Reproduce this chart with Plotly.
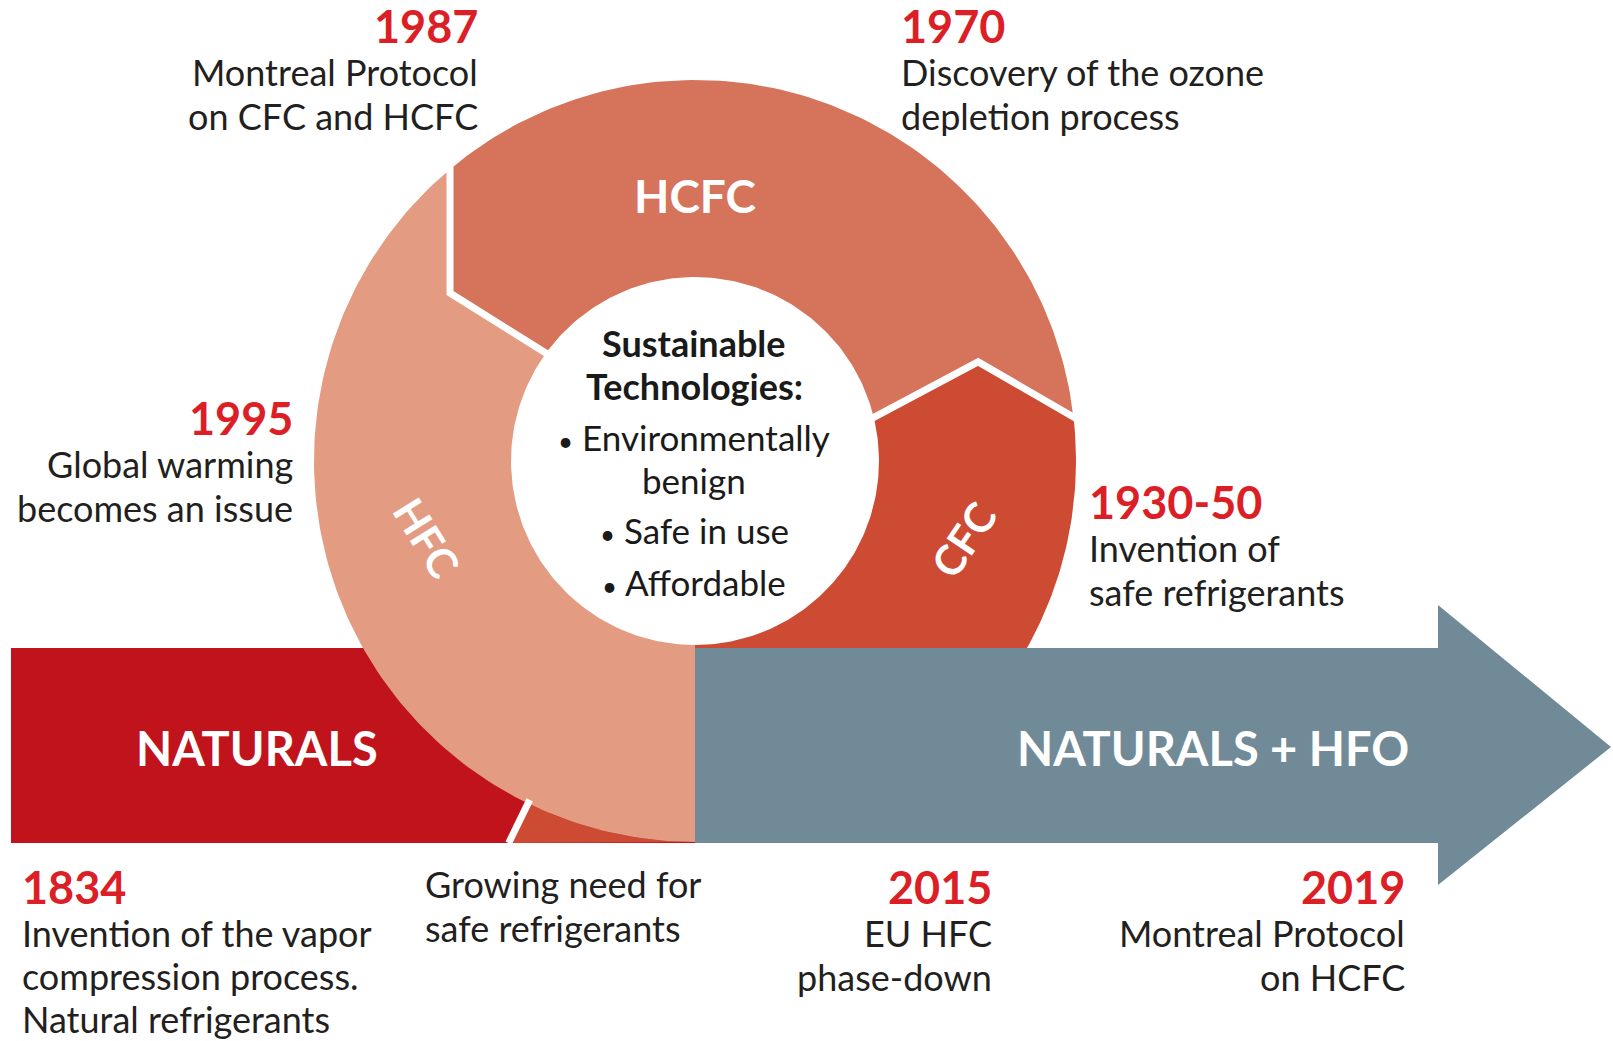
import numpy as np
import plotly.graph_objects as go

# --- данные ---
ERAS = ["CFC", "HCFC", "HFC"]
TIMELINE = ["NATURALS", "NATURALS + HFO"]
YEARS = ["1987", "1970", "1995", "1930-50", "1834", "2015", "2019"]
EVENTS = [
    ["Montreal Protocol", "on CFC and HCFC"],
    ["Discovery of the ozone", "depletion process"],
    ["Global warming", "becomes an issue"],
    ["Invention of", "safe refrigerants"],
    ["Invention of the vapor", "compression process.", "Natural refrigerants"],
    ["EU HFC", "phase-down"],
    ["Montreal Protocol", "on HCFC"],
]
NOTE = ["Growing need for", "safe refrigerants"]
CENTER_TITLE = ["Sustainable", "Technologies:"]
CENTER_ITEMS = ["Environmentally", "benign", "Safe in use", "Affordable"]
CENTER_BULLET = [True, False, True, True]

# --- стиль / геометрия ---
W, H = 1613, 1041
FONT = "Lato"
RED_TXT = "#dc1f26"
DARK = "#231f20"
ERA_COLORS = {"CFC": "#cd4a33", "HCFC": "#d6735b", "HFC": "#e39b81"}
BAR_RED = "#c1131c"
ARROW_GRAY = "#718a98"

CX, CY = 695, 461
R_OUT, R_IN = 381, 184
BAR_TOP, BAR_BOT = 648, 843


def pol(r, deg):
    a = np.radians(deg)
    return CX + r * np.cos(a), CY - r * np.sin(a)


def arc(r, a0, a1, n=120):
    t = np.linspace(a0, a1, n)
    return list(CX + r * np.cos(np.radians(t))), list(CY - r * np.sin(np.radians(t)))


# границы сегментов
A_OUT = 130.0                    # HCFC / HFC
A_CORNER = (450, 293)
A_IN = 144.0
B_OUT, B_TIP, B_IN = 6.2, (300, 19.3), 13.4   # HCFC / CFC
C_ANG = 244.0                    # хвост CFC внизу

fig = go.Figure()


def poly(xs, ys, color):
    fig.add_trace(go.Scatter(x=xs, y=ys, mode="lines", fill="toself",
                             fillcolor=color, line=dict(width=0, color=color),
                             hoverinfo="skip", showlegend=False))


# красная полоса NATURALS
poly([11, CX, CX, 11], [BAR_TOP, BAR_TOP, BAR_BOT, BAR_BOT], BAR_RED)

# CFC
ox, oy = arc(R_OUT, -90, B_OUT)
tx, ty = pol(*B_TIP)
ix, iy = arc(R_IN, B_IN, -90)
poly(ox + [tx] + ix, oy + [ty] + iy, ERA_COLORS["CFC"])

# хвост CFC под HFC
sx, sy = arc(R_OUT, C_ANG, 270, 40)
k = (BAR_BOT - CY) / -np.sin(np.radians(C_ANG))
end_x = CX + k * np.cos(np.radians(C_ANG))
poly(sx + [end_x], sy + [BAR_BOT], ERA_COLORS["CFC"])

# серая стрелка NATURALS + HFO
poly([CX, 1438, 1438, 1611, 1438, 1438, CX],
     [BAR_TOP, BAR_TOP, 605, 747, 885, BAR_BOT, BAR_BOT], ARROW_GRAY)

# HFC
ox, oy = arc(R_OUT, A_OUT, 270)
ix, iy = arc(R_IN, 270, A_IN)
poly(ox + ix + [A_CORNER[0]], oy + iy + [A_CORNER[1]], ERA_COLORS["HFC"])

# HCFC
ox, oy = arc(R_OUT, B_OUT, A_OUT)
ix, iy = arc(R_IN, A_IN, B_IN)
poly(ox + [A_CORNER[0]] + ix + [tx], oy + [A_CORNER[1]] + iy + [ty], ERA_COLORS["HCFC"])


# белые разделители
def sep(xs, ys):
    fig.add_trace(go.Scatter(x=xs, y=ys, mode="lines", line=dict(color="white", width=7),
                             hoverinfo="skip", showlegend=False))


p_out = pol(R_OUT + 4, A_OUT)
p_in = pol(R_IN - 4, A_IN)
sep([A_CORNER[0], A_CORNER[0], p_in[0]], [p_out[1], A_CORNER[1], p_in[1]])
q_in = pol(R_IN - 4, B_IN)
q_out = pol(R_OUT + 4, B_OUT)
sep([q_in[0], tx, q_out[0]], [q_in[1], ty, q_out[1]])
c0 = pol(R_OUT - 4, C_ANG)
sep([c0[0], end_x], [c0[1], BAR_BOT])

# --- тексты ---
ann = []


def txt(x, y, s, size, color=DARK, anchor="left", bold=False, angle=0):
    ann.append(dict(x=x, y=y, xref="x", yref="y", text=f"<b>{s}</b>" if bold else s,
                    showarrow=False, xanchor=anchor, yanchor="middle", textangle=angle,
                    font=dict(family=FONT, size=size, color=color)))


YEAR_POS = [(480, "right", 26), (899, "left", 26), (295, "right", 418),
            (1087, "left", 502), (20, "left", 887), (994, "right", 887),
            (1407, "right", 887)]
for year, lines, (x, anchor, y) in zip(YEARS, EVENTS, YEAR_POS):
    txt(x, y, year, 45, RED_TXT, anchor, bold=True)
    pitch = 43 if len(lines) > 2 else 44
    for i, line in enumerate(lines):
        txt(x, y + 46 + pitch * i, line, 36, DARK, anchor)

for i, line in enumerate(NOTE):
    txt(423, 884 + 44 * i, line, 36)

# центр
for s, y in zip(CENTER_TITLE, [343, 386]):
    txt(694, y, s, 36, "#1a1a1a", "center", bold=True)
for s, b, y in zip(CENTER_ITEMS, CENTER_BULLET, [437, 480, 530, 582]):
    label = "<span style='font-size:26px'>\u2022</span> " + s if b else s
    txt(694, y, label, 35, "#1a1a1a", "center")

# подписи сегментов
txt(695, 195, ERAS[1], 46, "white", "center", bold=True)
txt(427, 538, ERAS[2], 42, "white", "center", bold=True, angle=58)
txt(963, 540, ERAS[0], 42, "white", "center", bold=True, angle=-56)

# полосы
txt(257, 748, TIMELINE[0], 47, "white", "center", bold=True)
txt(1213, 748, TIMELINE[1], 47, "white", "center", bold=True)

fig.update_layout(
    width=W, height=H, margin=dict(l=0, r=0, t=0, b=0),
    paper_bgcolor="white", plot_bgcolor="white",
    xaxis=dict(range=[0, W], visible=False, fixedrange=True),
    yaxis=dict(range=[H, 0], visible=False, fixedrange=True),
    annotations=ann, showlegend=False,
)

fig.write_html("out.html", config={"displayModeBar": False},
               post_script="document.body.style.margin='0';")
